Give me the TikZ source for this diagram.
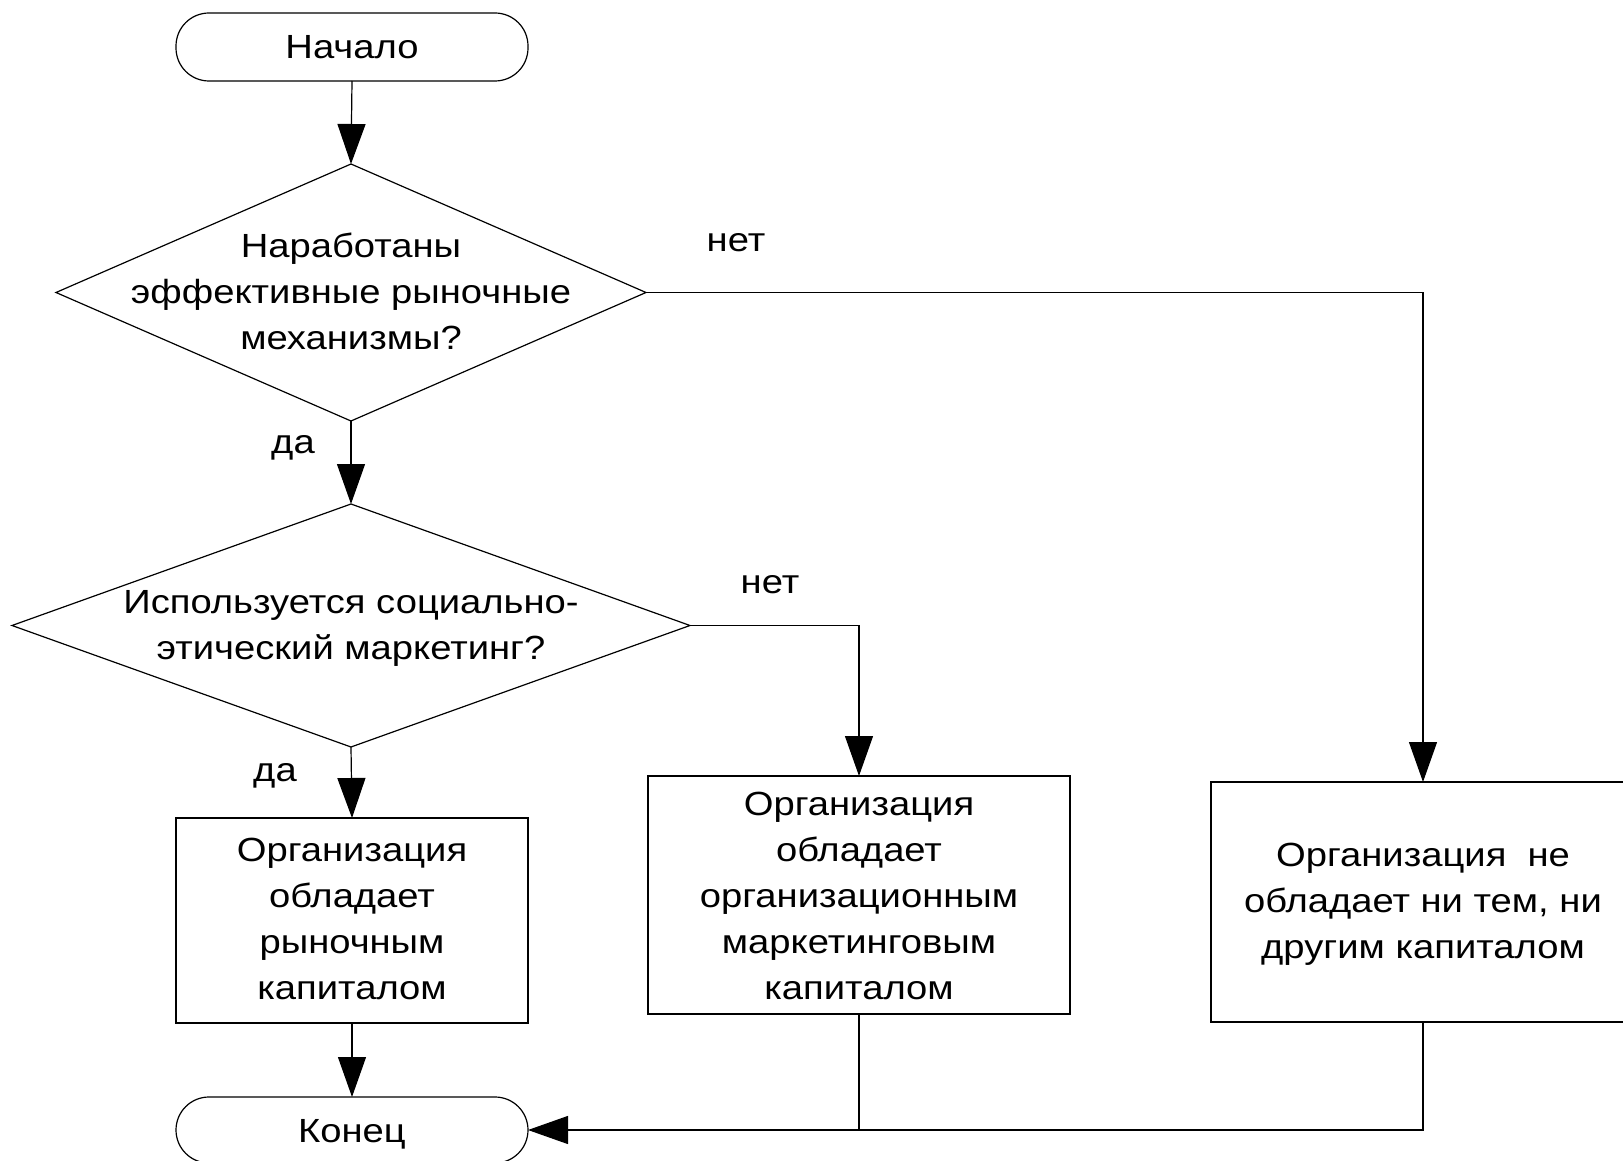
\documentclass[tikz,border=0pt]{standalone}
\usepackage{fontspec}
\setmainfont[FakeStretch=1.14]{Liberation Sans}
\usetikzlibrary{shapes.geometric,arrows.meta,calc}
\begin{document}
\begin{tikzpicture}[x=1pt,y=-1pt,
  line width=1.2pt,
  every node/.style={font=\fontsize{33.5}{46}\selectfont, inner sep=0pt, outer sep=0pt},
  term/.style={draw, rectangle, rounded corners=33pt, minimum width=352pt, minimum height=68pt, text height=24pt, text depth=0pt},
  dec/.style={draw, diamond},
  proc/.style={draw, rectangle},
  txt/.style={align=center},
  flow/.style={-{Triangle[length=40pt,width=28pt]}}
]
\path[fill=white, use as bounding box] (0,0) rectangle (1623,1161);

\node[term] (start) at (352,47) {Начало};
\node[dec, minimum width=590pt, minimum height=257pt] (d1) at (351,292.5) {};
\node[txt] (d1t) at (351,291) {Наработаны\\эффективные рыночные\\механизмы?};
\node[dec, minimum width=678pt, minimum height=243pt] (d2) at (351,625.5) {};
\node[txt] (d2t) at (351,628) {Используется социально-\\этический маркетинг?};
\node[proc, minimum width=352pt, minimum height=205pt] (b1) at (352,920.5) {};
\node[txt] (b1t) at (352,919) {Организация\\обладает\\рыночным\\капиталом};
\node[proc, minimum width=422pt, minimum height=238pt] (b2) at (859,895) {};
\node[txt] (b2t) at (859,896) {Организация\\обладает\\организационным\\маркетинговым\\капиталом};
\node[proc, minimum width=424pt, minimum height=240pt] (b3) at (1423,902) {};
\node[txt] (b3t) at (1423,904) {Организация~~не\\обладает ни тем, ни\\другим капиталом};
\node[term, minimum height=66pt] (end) at (352,1130) {Конец};

\node (l1) at (736,243) {нет};
\node (l2) at (293,448) {да};
\node (l3) at (770,585) {нет};
\node (l4) at (275,776) {да};

\draw[flow] (start.south) -- (d1.north);
\draw[flow] (d1.south) -- (d2.north);
\draw[flow] (d1.east) -| (b3.north);
\draw[flow] (d2.east) -| (b2.north);
\draw[flow] (d2.south) -- (b1.north);
\draw[flow] (b1.south) -- (end.north);
\draw[flow] (b3.south) |- (end.east);
\draw (b2.south) -- (b2.south |- end.east);
\end{tikzpicture}
\end{document}
